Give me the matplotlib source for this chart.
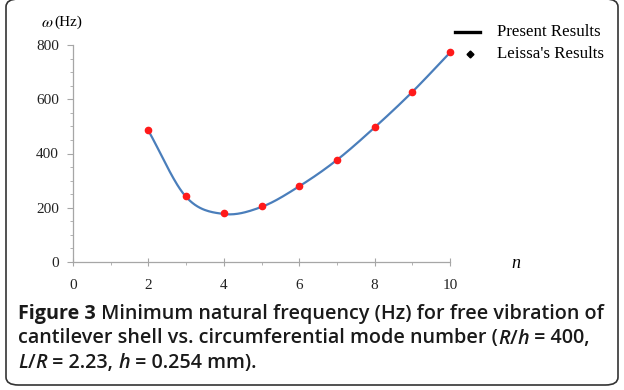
import matplotlib

matplotlib.use("Agg")
import matplotlib.pyplot as plt
import numpy as np
from matplotlib.patches import FancyBboxPatch
from matplotlib.lines import Line2D

# data
n_vals = [2, 3, 4, 5, 6, 7, 8, 9, 10]
present = [484, 240, 177, 203, 279, 376, 496, 627, 772]
leissa = [488, 243, 182, 206, 280, 377, 496, 626, 773]
x_ticks = [0, 2, 4, 6, 8, 10]
y_ticks = [0, 200, 400, 600, 800]

caption_lines = [
    [("Figure 3", "bold", "normal"), (" Minimum natural frequency (Hz) for free vibration of", "semibold", "normal")],
    [("cantilever shell vs. circumferential mode number (", "semibold", "normal"), ("R", "semibold", "italic"),
     ("/", "semibold", "normal"), ("h", "semibold", "italic"), (" = 400,", "semibold", "normal")],
    [("L", "semibold", "italic"), ("/", "semibold", "normal"), ("R", "semibold", "italic"),
     (" = 2.23, ", "semibold", "normal"), ("h", "semibold", "italic"), (" = 0.254 mm).", "semibold", "normal")],
]


def catmull_rom(x, y, steps=30):
    # smooth curve through the present results (drawing only)
    x = np.asarray(x, float)
    y = np.asarray(y, float)
    px = np.concatenate([[2 * x[0] - x[1]], x, [2 * x[-1] - x[-2]]])
    py = np.concatenate([[2 * y[0] - y[1]], y, [2 * y[-1] - y[-2]]])
    xs, ys = [], []
    t = np.linspace(0, 1, steps, endpoint=False)
    for i in range(1, len(px) - 2):
        for p, out in ((px, xs), (py, ys)):
            p0, p1, p2, p3 = p[i - 1], p[i], p[i + 1], p[i + 2]
            out.extend(0.5 * (2 * p1 + (-p0 + p2) * t + (2 * p0 - 5 * p1 + 4 * p2 - p3) * t**2
                              + (-p0 + 3 * p1 - 3 * p2 + p3) * t**3))
    xs.append(x[-1])
    ys.append(y[-1])
    return np.array(xs), np.array(ys)


W, H = 624, 390
fig = plt.figure(figsize=(W / 100, H / 100), dpi=100)

border = FancyBboxPatch((6 / W, 5 / H), (W - 12) / W, (H - 4) / H,
                        boxstyle="round,pad=0,rounding_size=0.02",
                        transform=fig.transFigure, fill=False, ec="#333333", lw=1.2)
fig.patches.append(border)

ax = fig.add_axes([73 / W, 128 / H, 377 / W, 217 / H])
serif = "Liberation Serif"
axis_col = "#a6a6a6"

cx, cy = catmull_rom(n_vals, present)
ax.plot(cx, cy, color="#4a7ebb", lw=1.6, zorder=2)
ax.plot(n_vals, leissa, "o", color="#ff1a1a", ms=4.5, zorder=3, clip_on=False)

ax.set_xlim(0, 10)
ax.set_ylim(0, 800)
for s in ("top", "right"):
    ax.spines[s].set_visible(False)
for s in ("left", "bottom"):
    ax.spines[s].set_color(axis_col)
    ax.spines[s].set_linewidth(0.9)
ax.set_xticks(x_ticks)
ax.set_yticks(y_ticks)
ax.set_xticks(range(0, 11), minor=True)
ax.set_yticks(range(0, 801, 50), minor=True)
ax.tick_params(axis="both", which="both", color=axis_col, labelsize=11, labelcolor="#222222")
ax.tick_params(axis="x", which="major", direction="inout", length=6, pad=9)
ax.tick_params(axis="x", which="minor", direction="out", length=2.5)
ax.tick_params(axis="y", which="major", direction="out", length=4, pad=6)
ax.tick_params(axis="y", which="minor", direction="out", length=2.5)
for lab in ax.get_xticklabels() + ax.get_yticklabels():
    lab.set_family(serif)
ax.patch.set_visible(False)

fig.text(41 / W, 1 - 23 / H, r"$\omega$", family=serif, fontsize=11.5, va="center", math_fontfamily="stix")
fig.text(54 / W, 1 - 22 / H, "(Hz)", family=serif, fontsize=11, va="center")
fig.text(511 / W, 1 - 264 / H, "n", family=serif, style="italic", fontsize=13, va="center")

# legend
fig.add_artist(Line2D([455 / W, 480 / W], [1 - 32 / H, 1 - 32 / H], color="black", lw=2.4))
fig.add_artist(Line2D([470 / W], [1 - 54 / H], marker="D", ms=3.5, color="black", ls="none"))
fig.text(497 / W, 1 - 32 / H, "Present Results", family=serif, fontsize=12.2, va="center")
fig.text(497 / W, 1 - 54 / H, "Leissa's Results", family=serif, fontsize=12.2, va="center")

# caption, written piece by piece; size chosen so the first line spans ~585 px
renderer = fig.canvas.get_renderer()
cap_font = "Open Sans"


def line_width(pieces, size):
    w = 0
    for txt, weight, style in pieces:
        t = fig.text(0, 0, txt, family=cap_font, fontsize=size, weight=weight, style=style)
        w += t.get_window_extent(renderer).width
        t.remove()
    return w


cap_size = 10 * 585 / line_width(caption_lines[0], 10)
for i, pieces in enumerate(caption_lines):
    x = 18
    y = 1 - (314 + 24.5 * i) / H
    for txt, weight, style in pieces:
        t = fig.text(x / W, y, txt, family=cap_font, fontsize=cap_size, weight=weight,
                     style=style, va="center", color="#1a1a1a")
        x += t.get_window_extent(renderer).width

fig.savefig("out.png", dpi=100)
